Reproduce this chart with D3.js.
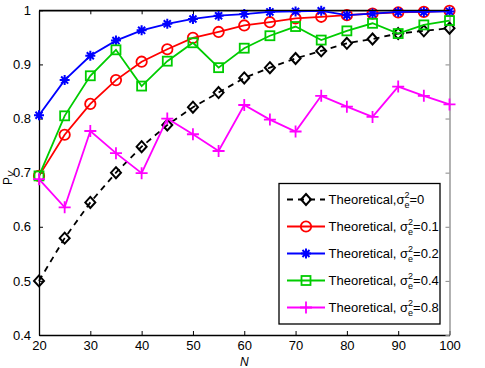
<!DOCTYPE html>
<html>
<head>
<meta charset="utf-8">
<script src="https://cdn.jsdelivr.net/npm/d3@7"></script>
<style>
  body { margin: 0; background: #fff; }
  svg { display: block; }
  text { font-family: "Liberation Sans", Arial, sans-serif; }
</style>
</head>
<body>
<svg width="485" height="368"></svg>
<script>
// data
const N = [20, 25, 30, 35, 40, 45, 50, 55, 60, 65, 70, 75, 80, 85, 90, 95, 100];
const sigma0 = [0.500, 0.579, 0.645, 0.700, 0.748, 0.788, 0.821, 0.848, 0.875, 0.894, 0.911, 0.925, 0.939, 0.947, 0.957, 0.962, 0.967];
const sigma01 = [0.694, 0.770, 0.827, 0.871, 0.905, 0.928, 0.949, 0.960, 0.972, 0.978, 0.985, 0.988, 0.991, 0.994, 0.996, 0.997, 0.999];
const sigma02 = [0.806, 0.871, 0.916, 0.944, 0.963, 0.975, 0.984, 0.990, 0.993, 0.997, 0.998, 0.999, 0.991, 0.994, 0.997, 0.997, 0.998];
const sigma04 = [0.694, 0.805, 0.879, 0.927, 0.860, 0.906, 0.940, 0.894, 0.930, 0.953, 0.970, 0.945, 0.962, 0.976, 0.957, 0.973, 0.981];
const sigma08 = [0.688, 0.636, 0.777, 0.736, 0.699, 0.800, 0.771, 0.740, 0.825, 0.798, 0.776, 0.842, 0.822, 0.803, 0.859, 0.842, 0.826];
const legendLabels = ['0', '0.1', '0.2', '0.4', '0.8'];
const xTicks = [20, 30, 40, 50, 60, 70, 80, 90, 100];
const yTicks = [0.4, 0.5, 0.6, 0.7, 0.8, 0.9, 1];

const series = [
  { values: sigma0, color: '#000000', marker: 'diamond', dash: '6,5' },
  { values: sigma01, color: '#ff0000', marker: 'circle', dash: null },
  { values: sigma02, color: '#0000ff', marker: 'star', dash: null },
  { values: sigma04, color: '#00cc00', marker: 'square', dash: null },
  { values: sigma08, color: '#ff00ff', marker: 'plus', dash: null },
];

const PLOT = { left: 39, right: 449.5, top: 10.3, bottom: 335 };
const svg = d3.select('svg');

const x = d3.scaleLinear().domain([20, 100]).range([PLOT.left, PLOT.right]);
const y = d3.scaleLinear().domain([0.4, 1]).range([PLOT.bottom, PLOT.top]);

const tickFmt = d => (d === 1 ? '1' : d3.format('.1f')(d));

// axes with inward ticks
svg.append('g')
  .attr('transform', `translate(0,${PLOT.bottom})`)
  .call(d3.axisBottom(x).tickValues(xTicks).tickSize(-4).tickPadding(6).tickSizeOuter(0))
  .call(g => g.selectAll('text').attr('font-size', 13).attr('fill', '#000'));
svg.append('g')
  .attr('transform', `translate(${PLOT.left},0)`)
  .call(d3.axisLeft(y).tickValues(yTicks).tickFormat(tickFmt).tickSize(-4).tickPadding(8).tickSizeOuter(0))
  .call(g => g.selectAll('text').attr('font-size', 13).attr('fill', '#000'));
svg.append('g')
  .attr('transform', `translate(0,${PLOT.top})`)
  .call(d3.axisTop(x).tickValues(xTicks).tickSize(-4).tickFormat('').tickSizeOuter(0));
svg.append('g')
  .attr('transform', `translate(${PLOT.right},0)`)
  .attr('color', '#888')
  .call(d3.axisRight(y).tickValues(yTicks).tickSize(-4).tickFormat('').tickSizeOuter(0));
svg.selectAll('.domain').attr('stroke-width', 1.3);

// axis titles
svg.append('text')
  .attr('x', x(60)).attr('y', 366)
  .attr('text-anchor', 'middle')
  .attr('font-family', '"Liberation Serif", serif')
  .attr('font-style', 'italic')
  .attr('font-size', 12)
  .text('N');
const yl = svg.append('text')
  .attr('transform', `translate(12,${y(0.69)}) rotate(-90)`)
  .attr('text-anchor', 'middle')
  .attr('font-family', '"Liberation Serif", serif')
  .attr('font-size', 12);
yl.append('tspan').text('P');
yl.append('tspan').attr('dy', 2).attr('font-size', 9).attr('font-style', 'italic').text('V');

// markers
function drawMarker(g, type, color) {
  if (type === 'diamond') {
    g.append('path').attr('d', 'M0,-5.5L5,0L0,5.5L-5,0Z')
      .attr('fill', 'none').attr('stroke', color).attr('stroke-width', 2);
  } else if (type === 'circle') {
    g.append('circle').attr('r', 5.2)
      .attr('fill', 'none').attr('stroke', color).attr('stroke-width', 1.8);
  } else if (type === 'square') {
    g.append('rect').attr('x', -4.5).attr('y', -4.5).attr('width', 9).attr('height', 9)
      .attr('fill', 'none').attr('stroke', color).attr('stroke-width', 1.8);
  } else if (type === 'star') {
    const r = 5;
    let d = '';
    [0, 45, 90, 135].forEach(a => {
      const t = a * Math.PI / 180;
      d += `M${-r * Math.cos(t)},${-r * Math.sin(t)}L${r * Math.cos(t)},${r * Math.sin(t)}`;
    });
    g.append('path').attr('d', d).attr('stroke', color).attr('stroke-width', 2);
    g.append('circle').attr('r', 2.5).attr('fill', color);
  } else if (type === 'plus') {
    g.append('path').attr('d', 'M-6,0L6,0M0,-6L0,6')
      .attr('stroke', color).attr('stroke-width', 1.8);
  }
}

const line = d3.line().x((d, i) => x(N[i])).y(d => y(d));

series.forEach(s => {
  svg.append('path')
    .datum(s.values)
    .attr('d', line)
    .attr('fill', 'none')
    .attr('stroke', s.color)
    .attr('stroke-width', 1.8)
    .attr('stroke-dasharray', s.dash);
  s.values.forEach((v, i) => {
    const g = svg.append('g').attr('transform', `translate(${x(N[i])},${y(v)})`);
    drawMarker(g, s.marker, s.color);
  });
});

// top border over the lines
svg.append('line')
  .attr('x1', PLOT.left).attr('x2', PLOT.right).attr('y1', PLOT.top).attr('y2', PLOT.top)
  .attr('stroke', '#000').attr('stroke-width', 1.3);

// legend
const lg = svg.append('g');
lg.append('rect')
  .attr('x', 279).attr('y', 183.5).attr('width', 161).attr('height', 140.5)
  .attr('fill', '#fff').attr('stroke', '#000').attr('stroke-width', 1.3);
series.forEach((s, i) => {
  const cy = 199.5 + i * 27;
  lg.append('line')
    .attr('x1', 287).attr('x2', 325).attr('y1', cy).attr('y2', cy)
    .attr('stroke', s.color).attr('stroke-width', 1.8)
    .attr('stroke-dasharray', s.dash);
  drawMarker(lg.append('g').attr('transform', `translate(306,${cy})`), s.marker, s.color);
  const t = lg.append('text')
    .attr('x', 328.5).attr('y', cy + 4.5)
    .attr('font-size', 13);
  t.append('tspan').text(i === 0 ? 'Theoretical,' : 'Theoretical, ');
  t.append('tspan').text('σ');
  t.append('tspan').attr('font-size', 9).attr('dy', -6).text('2');
  t.append('tspan').attr('font-size', 9).attr('dx', -5).attr('dy', 10).text('e');
  t.append('tspan').attr('dy', -4).text('=' + legendLabels[i]);
});
</script>
</body>
</html>
